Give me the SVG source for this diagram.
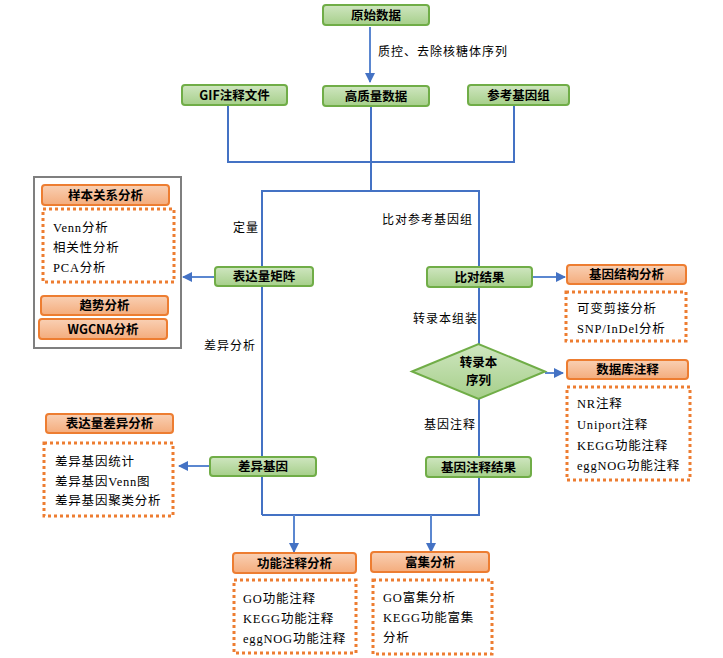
<svg xmlns="http://www.w3.org/2000/svg" width="723" height="658" viewBox="0 0 723 658">
<style>
.g{fill:url(#gg);stroke:#70ad47;stroke-width:2}
.o{fill:url(#og);stroke:#ed7d31;stroke-width:2}
.d{fill:#fff;stroke:#ed7d31;stroke-width:3;stroke-dasharray:3 3}
.t{font-family:"Noto Sans CJK SC","Liberation Sans",sans-serif;font-weight:bold;font-size:12.5px;fill:#000;text-anchor:middle}
.l{font-family:"Noto Sans CJK SC","Liberation Sans",sans-serif;font-size:12px;fill:#000;letter-spacing:1px}
.s{font-family:"Liberation Serif","Noto Sans CJK SC",serif;font-size:12.5px;fill:#000;letter-spacing:0.8px}
.c{fill:none;stroke:#4472c4;stroke-width:2}
.a{fill:none;stroke:#5b87d0;stroke-width:2;marker-end:url(#ar)}
</style>
<defs>
<linearGradient id="gg" x1="0" y1="0" x2="0" y2="1"><stop offset="0" stop-color="#cfe6c0"/><stop offset="1" stop-color="#a6cf8a"/></linearGradient>
<linearGradient id="og" x1="0" y1="0" x2="0" y2="1"><stop offset="0" stop-color="#f9d0b4"/><stop offset="1" stop-color="#f4ac7c"/></linearGradient>
<marker id="ar" viewBox="0 0 10 10" refX="9" refY="5" markerWidth="5" markerHeight="5" orient="auto"><path d="M0,0 L10,5 L0,10 z" fill="#4472c4"/></marker>
</defs>
<rect width="723" height="658" fill="#fff"/>
<g id="connectors">
<path class="a" d="M370,27 V82"/>
<path class="c" d="M228,105 V162 H514 V105"/>
<path class="c" d="M371,106 V191"/>
<path class="c" d="M262,515 V191 H479 V515 H262"/>
<path class="a" d="M215,277 H183"/>
<path class="a" d="M532,277 H565"/>
<path class="a" d="M545,373 H563"/>
<path class="a" d="M210,466 H179"/>
<path class="a" d="M294,515 V552"/>
<path class="a" d="M431,515 V552"/>
<text class="l" x="378" y="56">质控、去除核糖体序列</text>
<text class="l" x="233" y="232">定量</text>
<text class="l" x="382" y="224">比对参考基因组</text>
<text class="l" x="204" y="350">差异分析</text>
<text class="l" x="413" y="323">转录本组装</text>
<text class="l" x="424" y="429">基因注释</text>
</g>
<g id="n-raw"><rect class="g" x="323" y="5" width="106" height="20" rx="3"/><text class="t" x="376" y="19.5">原始数据</text></g>
<g id="n-gif"><rect class="g" x="182" y="85" width="105" height="20" rx="3"/><text class="t" x="234.5" y="99.5">GIF注释文件</text></g>
<g id="n-hq"><rect class="g" x="323" y="86" width="106" height="20" rx="3"/><text class="t" x="376" y="100.5">高质量数据</text></g>
<g id="n-ref"><rect class="g" x="468" y="85" width="101" height="20" rx="3"/><text class="t" x="518.5" y="99.5">参考基因组</text></g>
<g id="n-matrix"><rect class="g" x="215" y="267" width="98" height="19" rx="3"/><text class="t" x="264" y="281">表达量矩阵</text></g>
<g id="n-align"><rect class="g" x="427" y="267" width="105" height="20" rx="3"/><text class="t" x="479.5" y="281.5">比对结果</text></g>
<g id="n-deg"><rect class="g" x="210" y="457" width="106" height="19" rx="3"/><text class="t" x="263" y="471">差异基因</text></g>
<g id="n-annot"><rect class="g" x="426" y="457" width="105" height="20" rx="3"/><text class="t" x="478.5" y="471.5">基因注释结果</text></g>
<g id="n-transcript"><polygon class="g" points="412,371.5 478.5,344 545,371.5 478.5,399"/><text class="t" x="478.5" y="366.5">转录本</text><text class="t" x="478.5" y="385">序列</text></g>
<g id="n-sample-group">
<rect x="34" y="177" width="147" height="171" fill="#fff" stroke="#7f7f7f" stroke-width="2"/>
<rect class="o" x="42" y="185" width="127" height="20" rx="3"/><text class="t" x="105.5" y="199.5">样本关系分析</text>
<rect class="d" x="43" y="209" width="131" height="73"/>
<text class="s" x="53" y="231.5">Venn分析</text>
<text class="s" x="53" y="251.5">相关性分析</text>
<text class="s" x="53" y="271.5">PCA分析</text>
<rect class="o" x="41" y="296" width="127" height="19" rx="3"/><text class="t" x="104.5" y="310">趋势分析</text>
<rect class="o" x="39" y="319" width="128" height="20" rx="3"/><text class="t" x="103" y="333.5">WGCNA分析</text>
</g>
<g id="n-structure">
<rect class="o" x="567" y="265" width="119" height="19" rx="3"/><text class="t" x="626.5" y="279">基因结构分析</text>
<rect class="d" x="566" y="292" width="120" height="49"/>
<text class="s" x="577" y="312.5">可变剪接分析</text>
<text class="s" x="577" y="332.5">SNP/InDel分析</text>
</g>
<g id="n-db">
<rect class="o" x="567" y="360" width="121" height="19" rx="3"/><text class="t" x="627.5" y="374">数据库注释</text>
<rect class="d" x="567" y="387" width="123" height="93"/>
<text class="s" x="577" y="407.5">NR注释</text>
<text class="s" x="577" y="428.5">Uniport注释</text>
<text class="s" x="577" y="449.5">KEGG功能注释</text>
<text class="s" x="577" y="469.5">eggNOG功能注释</text>
</g>
<g id="n-diffexp">
<rect class="o" x="46" y="414" width="127" height="19" rx="3"/><text class="t" x="109.5" y="428">表达量差异分析</text>
<rect class="d" x="44" y="443" width="129" height="73"/>
<text class="s" x="55" y="465.5">差异基因统计</text>
<text class="s" x="55" y="485.5">差异基因Venn图</text>
<text class="s" x="55" y="504.5">差异基因聚类分析</text>
</g>
<g id="n-func">
<rect class="o" x="233" y="553" width="123" height="20" rx="3"/><text class="t" x="294.5" y="567.5">功能注释分析</text>
<rect class="d" x="234" y="580" width="122" height="73"/>
<text class="s" x="243" y="602.5">GO功能注释</text>
<text class="s" x="243" y="622.5">KEGG功能注释</text>
<text class="s" x="243" y="642.5">eggNOG功能注释</text>
</g>
<g id="n-enrich">
<rect class="o" x="371" y="552" width="118" height="20" rx="3"/><text class="t" x="430" y="566.5">富集分析</text>
<rect class="d" x="373" y="580" width="119" height="74"/>
<text class="s" x="383" y="601.5">GO富集分析</text>
<text class="s" x="383" y="621.5">KEGG功能富集</text>
<text class="s" x="383" y="641.5">分析</text>
</g>
</svg>
